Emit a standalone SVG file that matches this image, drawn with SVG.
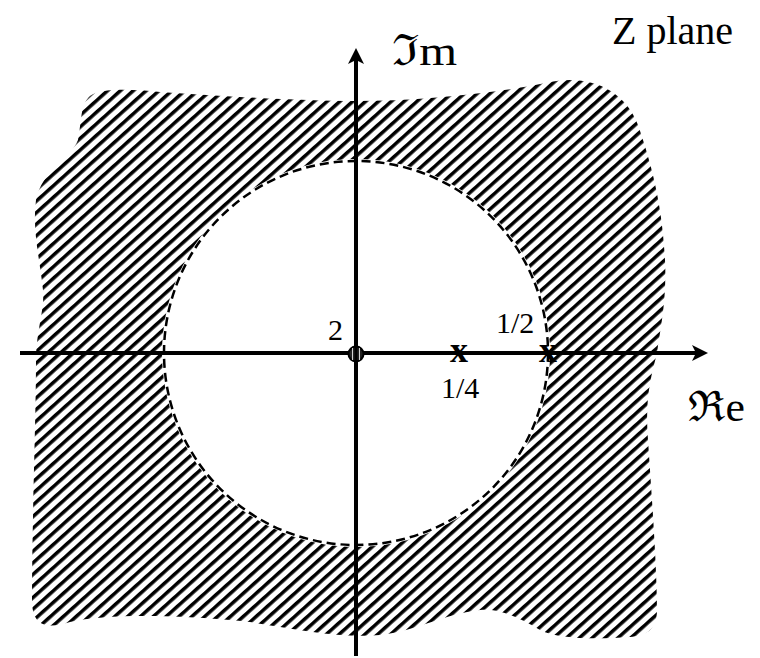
<svg xmlns="http://www.w3.org/2000/svg" width="760" height="658" viewBox="0 0 760 658">
  <style>
    .lbl { font-family: "Liberation Serif", "DejaVu Serif", serif; fill: #000; }
    .big { font-size: 40px; }
    .small { font-size: 30px; }
    .pole { font-family: "Liberation Serif", "DejaVu Serif", serif; font-size: 36px; font-weight: bold; text-anchor: middle; }
    .axis { stroke: #000; stroke-width: 4; fill: none; }
  </style>
  <defs>
    <pattern id="hatch" patternUnits="userSpaceOnUse" width="20" height="8.6" patternTransform="rotate(-42)">
      <rect x="0" y="0" width="20" height="3.5" fill="#000"/>
    </pattern>
    <marker id="arrow" markerUnits="userSpaceOnUse" markerWidth="16" markerHeight="16" viewBox="0 0 16 16" refX="8" refY="8" orient="auto">
      <path d="M0,0 L16,8 L0,16 L4,8 Z" fill="#000"/>
    </marker>
  </defs>
  <rect width="760" height="658" fill="#fff"/>

  <g id="roc-region">
    <path fill="url(#hatch)" d="M 90,96 C 100,88 130,89 160,92 C 220,96 300,101 356,101 C 420,101 500,93 550,82 C 590,74 625,90 638,125 C 650,160 662,200 665,260 C 667,300 660,330 657,353 C 650,380 645,400 648,440 C 652,500 657,570 657,610 C 657,630 645,636 630,637 C 600,639 560,640 540,630 C 520,618 500,608 480,610 C 440,615 420,630 380,635 C 340,638 300,630 250,622 C 200,616 110,612 70,622 C 45,630 32,625 32,600 C 32,520 36,420 36,360 C 36,330 45,310 43,290 C 40,260 32,230 36,200 C 42,170 70,160 78,140 C 82,120 80,105 90,96 Z"/>
  </g>

  <g id="unit-circle">
    <circle cx="356" cy="353" r="194" fill="#fff"/>
    <circle cx="356" cy="353" r="192" fill="none" stroke="#000" stroke-width="2.5" stroke-dasharray="9 5"/>
  </g>

  <g id="axes">
    <line class="axis" x1="20" y1="353" x2="700" y2="353" marker-end="url(#arrow)"/>
    <line class="axis" x1="356" y1="656" x2="356" y2="56" marker-end="url(#arrow)"/>
  </g>

  <g id="zero-origin">
    <circle cx="356" cy="354" r="7.5" fill="#222" stroke="#000" stroke-width="2"/>
    <line x1="352.5" y1="348" x2="352.5" y2="360" stroke="#fff" stroke-width="0.8"/>
    <line x1="359.5" y1="348" x2="359.5" y2="360" stroke="#fff" stroke-width="0.8"/>
    <line x1="356" y1="345" x2="356" y2="363" stroke="#000" stroke-width="3"/>
    <text class="lbl small" x="328" y="340">2</text>
  </g>

  <g id="pole-quarter">
    <text class="pole" x="459" y="362">x</text>
    <text class="lbl small" x="441" y="398">1/4</text>
  </g>

  <g id="pole-half">
    <text class="pole" x="548" y="362">x</text>
    <text class="lbl small" x="496" y="333">1/2</text>
  </g>

  <g id="labels">
    <text class="lbl" font-size="43" x="392" y="65" textLength="65" lengthAdjust="spacingAndGlyphs">ℑm</text>
    <text class="lbl" font-size="42" x="688" y="421" textLength="57" lengthAdjust="spacingAndGlyphs">ℜe</text>
    <text class="lbl big" x="612" y="44">Z plane</text>
  </g>
</svg>
